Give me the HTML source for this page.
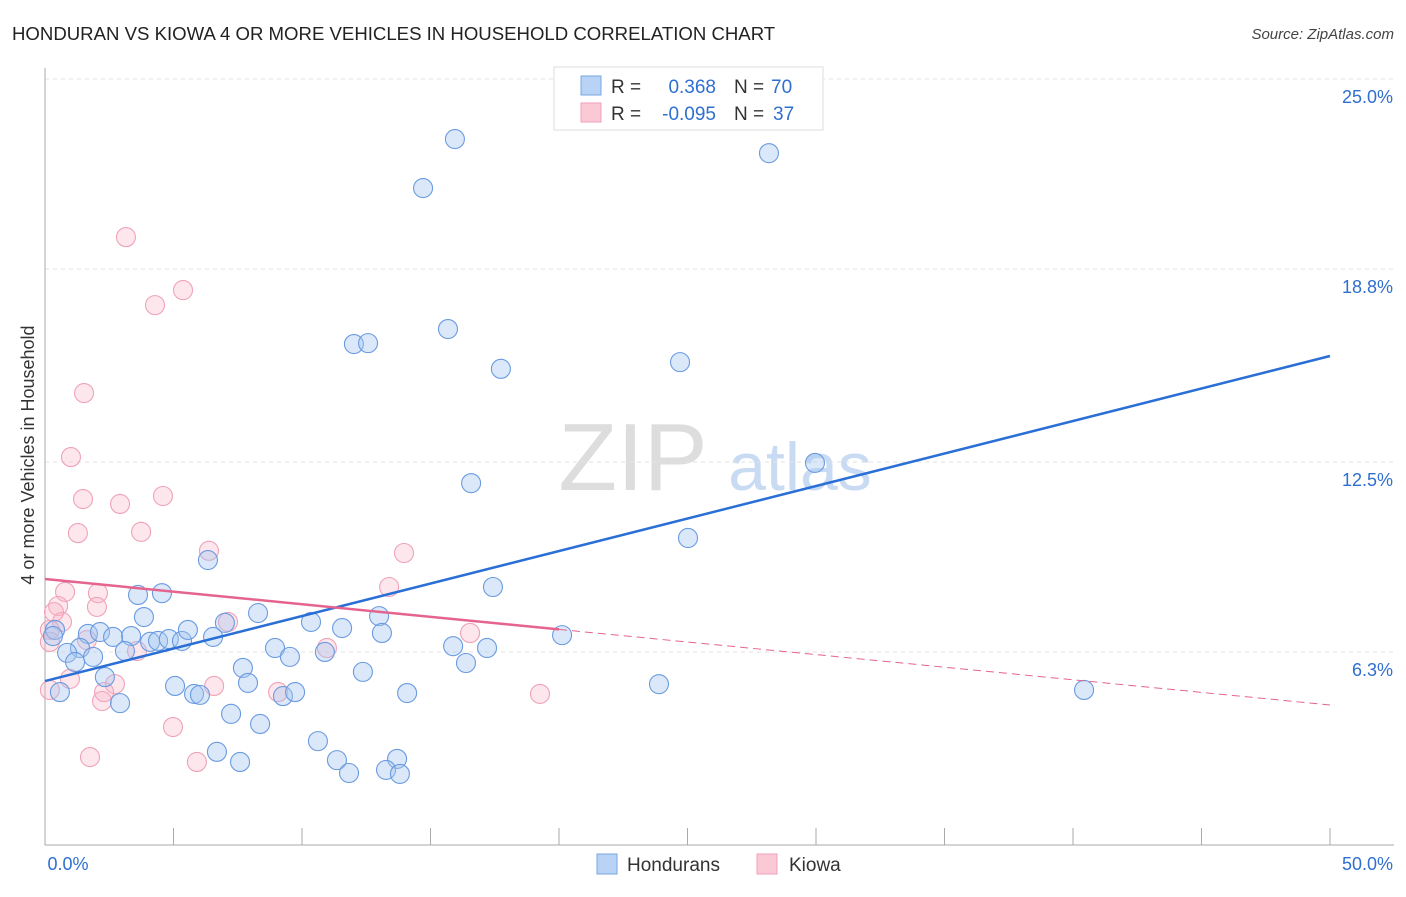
<!DOCTYPE html>
<html><head><meta charset="utf-8"><style>
body{margin:0;background:#fff;font-family:"Liberation Sans",sans-serif}
svg text{font-family:"Liberation Sans",sans-serif}
</style></head><body>
<svg width="1406" height="892" viewBox="0 0 1406 892">
<text x="12" y="40" font-size="18.6" fill="#222">HONDURAN VS KIOWA 4 OR MORE VEHICLES IN HOUSEHOLD CORRELATION CHART</text>
<text x="1394" y="39" font-size="15" fill="#444" font-style="italic" text-anchor="end">Source: ZipAtlas.com</text>
<g>
<text x="633" y="490" font-size="96" font-family="Liberation Serif" fill="#ddd" text-anchor="middle">ZIP</text>
<text x="800" y="490" font-size="68" fill="#c9dbf3" text-anchor="middle">atlas</text>
</g>
<g id="grid"></g><g id="axes"></g><g id="pts"></g><g id="lines"></g>
<g>
<rect x="554" y="67" width="269" height="63" fill="#fff" stroke="#ddd"/>
<rect x="581" y="76" width="20" height="19" fill="#b8d3f5" stroke="#7aa7e0"/>
<rect x="581" y="103" width="20" height="19" fill="#fbc8d6" stroke="#f0a0b8"/>
<text x="611" y="93" font-size="19" fill="#333">R = </text><text x="716" y="93" font-size="19" fill="#2f6fcf" text-anchor="end">0.368</text>
<text x="734" y="93" font-size="19" fill="#333">N = </text><text x="771" y="93" font-size="19" fill="#2f6fcf">70</text>
<text x="611" y="120" font-size="19" fill="#333">R = </text><text x="716" y="120" font-size="19" fill="#2f6fcf" text-anchor="end">-0.095</text>
<text x="734" y="120" font-size="19" fill="#333">N = </text><text x="773" y="120" font-size="19" fill="#2f6fcf">37</text>
</g>
<g>
<rect x="597" y="854" width="20" height="20" fill="#b8d3f5" stroke="#7aa7e0"/>
<text x="627" y="871" font-size="19" fill="#333">Hondurans</text>
<rect x="757" y="854" width="20" height="20" fill="#fbc8d6" stroke="#f0a0b8"/>
<text x="789" y="871" font-size="19" fill="#333">Kiowa</text>
</g>
<text transform="translate(34,455) rotate(-90)" font-size="18" fill="#333" text-anchor="middle">4 or more Vehicles in Household</text>
</svg>
<script>
const yTicks=[6.3,12.5,18.8,25.0];
const yTickLabels=["6.3%","12.5%","18.8%","25.0%"];
const xTickLabels=["0.0%","50.0%"];
const blueX=[15.95,28.17,14.71,15.68,12.02,12.57,17.74,24.71,29.96,16.58,25.02,6.34,17.43,3.62,4.55,3.85,8.29,13.00,10.35,11.56,7.00,0.39,0.31,1.67,2.14,2.65,3.35,4.09,4.40,4.82,5.33,5.56,6.54,13.11,20.12,15.88,17.20,8.95,9.53,10.89,1.36,0.86,1.87,1.17,3.11,7.70,12.37,16.38,2.33,7.90,5.06,5.80,6.03,9.26,9.73,14.09,23.89,40.43,0.58,2.92,7.24,8.37,10.62,6.69,7.59,11.36,11.83,13.70,13.27,13.81];
const blueY=[23.04,22.58,21.44,16.84,16.35,16.38,15.54,15.76,12.47,11.81,10.02,9.30,8.42,8.16,8.22,7.44,7.57,7.47,7.28,7.08,7.25,7.02,6.82,6.89,6.95,6.79,6.82,6.63,6.66,6.72,6.66,7.02,6.79,6.92,6.85,6.49,6.43,6.43,6.14,6.30,6.43,6.27,6.14,5.97,6.33,5.78,5.65,5.94,5.48,5.29,5.19,4.93,4.90,4.86,4.99,4.96,5.25,5.06,4.99,4.63,4.28,3.95,3.39,3.04,2.71,2.77,2.35,2.81,2.45,2.32];
const pinkX=[3.15,5.37,4.28,1.52,1.01,1.48,4.59,2.92,1.28,3.74,6.38,13.97,13.39,0.78,2.06,0.51,2.02,7.12,0.66,0.19,1.63,0.19,10.97,3.58,16.54,0.97,2.72,6.58,2.30,9.07,2.22,19.26,0.19,4.98,1.75,5.91,0.35];
const pinkY=[19.84,18.11,17.62,14.75,12.66,11.29,11.39,11.13,10.18,10.22,9.60,9.53,8.42,8.26,8.22,7.80,7.77,7.28,7.28,7.02,6.69,6.63,6.43,6.33,6.92,5.42,5.25,5.19,4.99,4.99,4.70,4.93,5.06,3.85,2.87,2.71,7.60];
const blueTrend=[5.35,15.96];
const pinkTrend=[8.68,4.57];
const pinkSolidEnd=20;
const NS="http://www.w3.org/2000/svg";
const X=v=>45+v*25.7, Y=v=>845-v*30.64;
function mk(tag,attrs,parent){const e=document.createElementNS(NS,tag);for(const k in attrs)e.setAttribute(k,attrs[k]);document.getElementById(parent).appendChild(e);return e;}
yTicks.forEach((t,i)=>{
 const g=mk('line',{x1:45,x2:1394,y1:Y(t),y2:Y(t),stroke:'#e2e2e2','stroke-dasharray':'4,4'},'grid');
 
 
 const l=mk('text',{x:1393,y:Y(t)+24,'font-size':18,fill:'#2f6fcf','text-anchor':'end'},'grid');
 l.textContent=yTickLabels[i];
 
 
});
const ya=mk('line',{x1:45,x2:45,y1:68,y2:845,stroke:'#aaa'},'axes');


const xa=mk('line',{x1:45,x2:1394,y1:845,y2:845,stroke:'#aaa'},'axes');


for(let i=0;i<=10;i++){const t=mk('line',{x1:X(i*5),x2:X(i*5),y1:828,y2:845,stroke:'#aaa'},'axes');
 
 }
[[0,68,'middle'],[50,1393,'end']].forEach((a,i)=>{const t=mk('text',{x:a[1],y:870,'font-size':18,fill:'#2f6fcf','text-anchor':a[2]},'axes');t.textContent=xTickLabels[i];
 
 });
function pts(xs,ys,fill,stroke,name){xs.forEach((x,i)=>{const c=mk('circle',{cx:X(x),cy:Y(ys[i]),r:9.5,fill:fill,stroke:stroke,'stroke-width':1.1},'pts');
 
 });}
pts(pinkX,pinkY,'rgba(248,175,195,0.3)','#efa2b8','kiowa-point');
pts(blueX,blueY,'rgba(165,198,240,0.4)','#6a9be0','honduran-point');
const bl=mk('line',{x1:X(0),y1:Y(blueTrend[0]),x2:X(50),y2:Y(blueTrend[1]),stroke:'#2a6fd6','stroke-width':2.5},'lines');


const pv=x=>pinkTrend[0]+(pinkTrend[1]-pinkTrend[0])*x/50;
const pl=mk('line',{x1:X(0),y1:Y(pv(0)),x2:X(pinkSolidEnd),y2:Y(pv(pinkSolidEnd)),stroke:'#e5648e','stroke-width':2.5},'lines');


const pd=mk('line',{x1:X(pinkSolidEnd),y1:Y(pv(pinkSolidEnd)),x2:X(50),y2:Y(pv(50)),stroke:'#e5648e','stroke-width':1,'stroke-dasharray':'8,5'},'lines');


</script>
</body></html>
